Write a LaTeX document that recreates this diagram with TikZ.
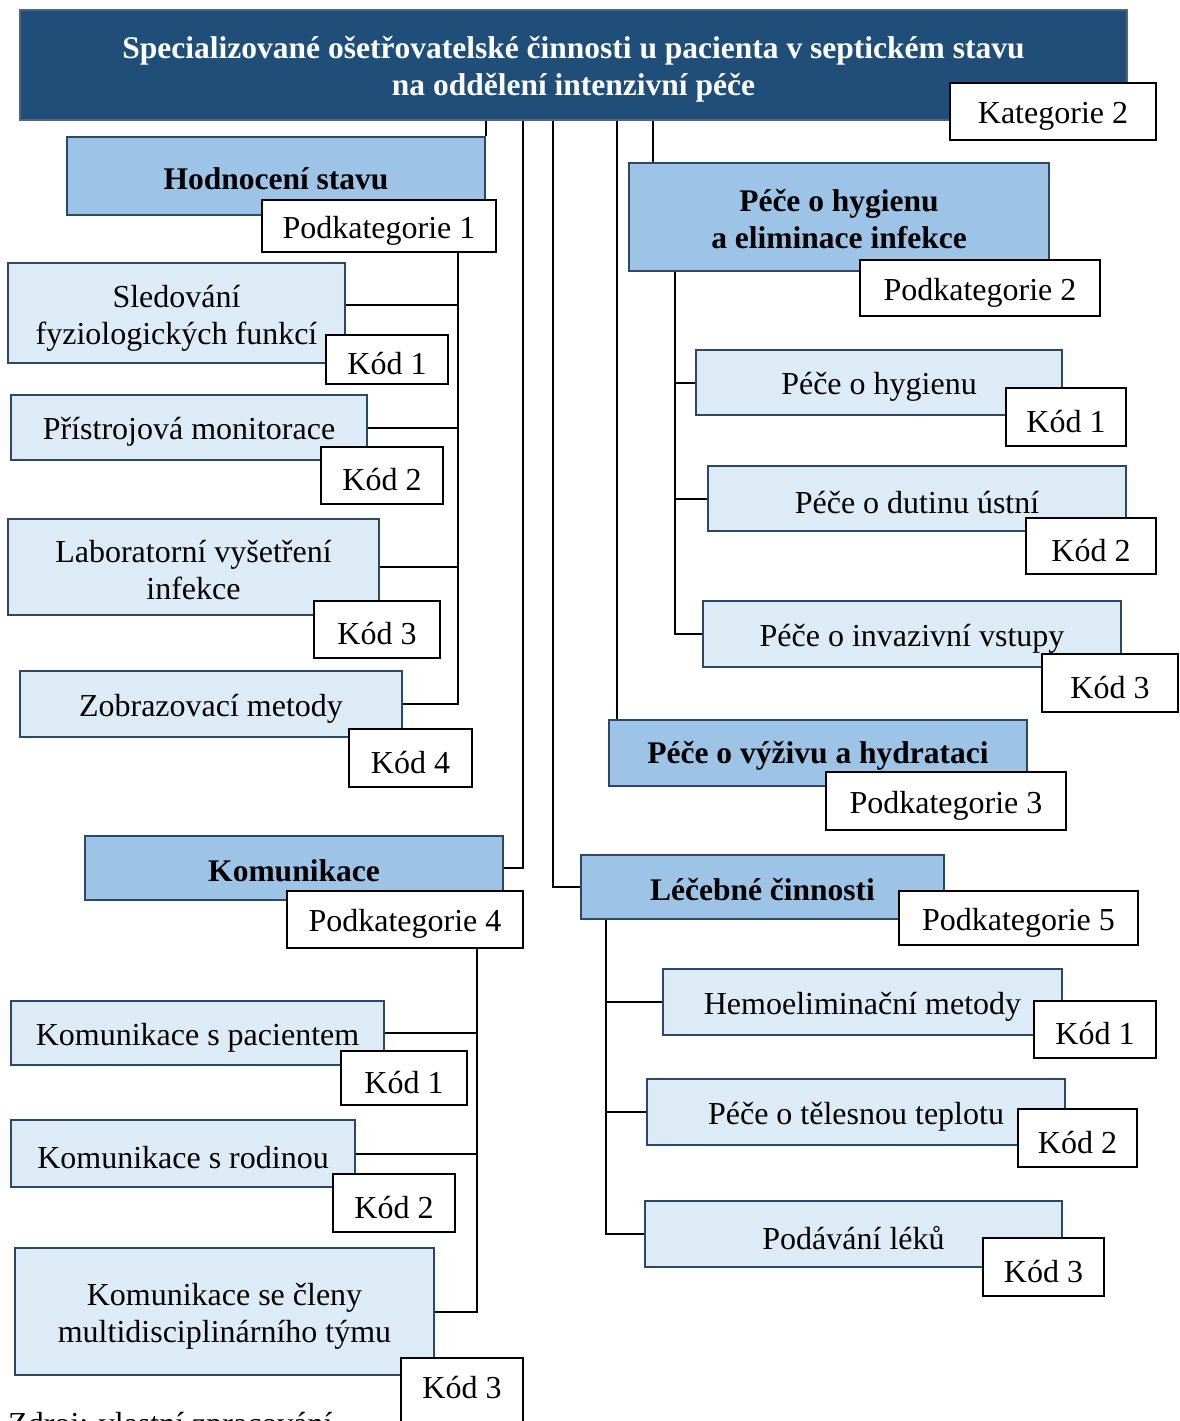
\documentclass[tikz,border=0pt]{standalone}
\usepackage{fontspec}
\setmainfont{Liberation Serif}
\usetikzlibrary{backgrounds}
\definecolor{headfill}{HTML}{1F4E79}
\definecolor{headline}{HTML}{4A6885}
\definecolor{subfill}{HTML}{9DC3E6}
\definecolor{codefill}{HTML}{DDEBF7}
\definecolor{boxline}{HTML}{2B4866}
\newcommand{\topstrut}{\rule{0pt}{31pt}}
\newcommand{\boldstrut}{\rule{0pt}{28pt}}
\begin{document}
\begin{tikzpicture}[x=1pt,y=-1pt,
  txt/.style={font=\fontsize{32}{37}\selectfont},
  headbox/.style={draw=headline,line width=2pt,fill=headfill,text=white,align=center,inner sep=0pt,
    font=\fontsize{31.5}{37}\selectfont\bfseries},
  subbox/.style={draw=boxline,line width=2pt,fill=subfill,align=center,inner sep=0pt,
    font=\fontsize{31.5}{37}\selectfont\bfseries,execute at begin node=\boldstrut},
  codebox/.style={draw=boxline,line width=2pt,fill=codefill,align=center,inner sep=0pt,
    font=\fontsize{32}{37}\selectfont,execute at begin node=\topstrut},
  tagbox/.style={draw=black,line width=1.5pt,fill=white,align=center,inner sep=0pt,
    font=\fontsize{32}{37}\selectfont,execute at begin node=\topstrut},
  link/.style={draw=black,line width=2pt},
  sz/.style 2 args={minimum width=#1pt,minimum height=#2pt}]
\useasboundingbox (0,0) rectangle (1179,1421);

% root
\node[headbox,sz={1107}{110}] (head) at (573.5,65) {\rule{0pt}{30pt}Specializované ošetřovatelské činnosti u pacienta v septickém stavu\\na oddělení intenzivní péče};
\node[tagbox,sz={206}{57}] (kat) at (1053,111.5) {Kategorie 2};

% subcategory 1
\node[subbox,sz={418}{78}] (hod) at (276,176) {Hodnocení stavu};
\node[tagbox,sz={234}{52}] (pk1) at (379,226) {Podkategorie 1};
\node[codebox,sz={337}{100}] (s1) at (176.5,313) {\rule{0pt}{32pt}Sledování\\fyziologických funkcí};
\node[tagbox,sz={122}{49}] (k11) at (387,359.5) {Kód 1};
\node[codebox,sz={356}{65}] (s2) at (189,427.5) {Přístrojová monitorace};
\node[tagbox,sz={122}{57}] (k12) at (382,475.5) {Kód 2};
\node[codebox,sz={371}{96}] (s3) at (193.5,567) {\rule{0pt}{28pt}Laboratorní vyšetření\\infekce};
\node[tagbox,sz={126}{57}] (k13) at (377,629.5) {Kód 3};
\node[codebox,sz={382}{66}] (s4) at (211,704) {Zobrazovací metody};
\node[tagbox,sz={123}{58}] (k14) at (410.5,758) {Kód 4};

% subcategory 2
\node[subbox,sz={420}{108}] (hyg) at (839,217) {\rule{0pt}{26pt}Péče o hygienu\\a eliminace infekce};
\node[tagbox,sz={240}{56}] (pk2) at (980,288) {Podkategorie 2};
\node[codebox,sz={366}{65}] (h1) at (879,382.5) {Péče o hygienu};
\node[tagbox,sz={120}{58}] (k21) at (1066,417) {Kód 1};
\node[codebox,sz={418}{65}] (h2) at (917,498.5) {Péče o dutinu ústní};
\node[tagbox,sz={130}{56}] (k22) at (1091,546) {Kód 2};
\node[codebox,sz={418}{66}] (h3) at (912,634) {Péče o invazivní vstupy};
\node[tagbox,sz={136}{58}] (k23) at (1110,683) {Kód 3};

% subcategory 3
\node[subbox,sz={418}{66}] (vyz) at (818,753) {Péče o výživu a hydrataci};
\node[tagbox,sz={240}{58}] (pk3) at (946,801) {Podkategorie 3};

% subcategory 4
\node[subbox,sz={418}{64}] (kom) at (294,868) {Komunikace};
\node[tagbox,sz={236}{57}] (pk4) at (405,919.5) {Podkategorie 4};
\node[codebox,sz={373}{64}] (c1) at (197.5,1033) {Komunikace s pacientem};
\node[tagbox,sz={126}{54}] (k41) at (404,1078) {Kód 1};
\node[codebox,sz={344}{67}] (c2) at (183,1153.5) {Komunikace s rodinou};
\node[tagbox,sz={122}{58}] (k42) at (394,1203) {Kód 2};
\node[codebox,sz={419}{127}] (c3) at (224.5,1311.5) {\rule{0pt}{32pt}Komunikace se členy\\multidisciplinárního týmu};
\node[draw=black,line width=1.5pt,fill=white,inner sep=0pt,sz={122}{120},anchor=north] (k43) at (462,1357) {};
\node[txt] (k43t) at (462,1388) {Kód 3};

% subcategory 5
\node[subbox,sz={363}{64}] (lec) at (762.5,887) {Léčebné činnosti};
\node[tagbox,sz={239}{54}] (pk5) at (1018.5,918) {Podkategorie 5};
\node[codebox,sz={399}{66}] (l1) at (862.5,1002) {Hemoeliminační metody};
\node[tagbox,sz={122}{57}] (k51) at (1095,1029.5) {Kód 1};
\node[codebox,sz={418}{66}] (l2) at (856,1112) {Péče o tělesnou teplotu};
\node[tagbox,sz={119}{58}] (k52) at (1077.5,1138) {Kód 2};
\node[codebox,sz={417}{66}] (l3) at (853.5,1234) {Podávání léků};
\node[tagbox,sz={121}{58}] (k53) at (1043.5,1267) {Kód 3};

% source line, running off the lower edge
\node[txt,anchor=base west,inner sep=0pt] (src) at (8,1434) {Zdroj: vlastní zpracování};

% connectors, behind the boxes
\begin{pgfonlayer}{background}
  \coordinate (xa) at (458,0);
  \coordinate (xb) at (675,0);
  \coordinate (xc) at (477,0);
  \coordinate (xd) at (606,0);
  \coordinate (xk) at (523,0);
  \coordinate (xl) at (553,0);
  \coordinate (xv) at (617,0);
  \coordinate (xh) at (653,0);

  \draw[link] (hod.north east) -- (hod.north east |- head.south);
  \draw[link] (head.south -| xk) |- (kom.east);
  \draw[link] (head.south -| xl) |- (lec.west);
  \draw[link] (head.south -| xv) -- (vyz.north -| xv);
  \draw[link] (head.south -| xh) -- (hyg.north -| xh);

  \draw[link] (pk1.south -| xa) |- (s4.east);
  \draw[link] ([yshift=8pt]s1.east) -- ([yshift=8pt]s1.east -| xa);
  \draw[link] (s2.east) -- (s2.east -| xa);
  \draw[link] (s3.east) -- (s3.east -| xa);

  \draw[link] (hyg.south -| xb) |- (h3.west);
  \draw[link] (h1.west) -- (h1.west -| xb);
  \draw[link] (h2.west) -- (h2.west -| xb);

  \draw[link] (pk4.south -| xc) |- (c3.east);
  \draw[link] (c1.east) -- (c1.east -| xc);
  \draw[link] (c2.east) -- (c2.east -| xc);

  \draw[link] (lec.south -| xd) |- (l3.west);
  \draw[link] (l1.west) -- (l1.west -| xd);
  \draw[link] (l2.west) -- (l2.west -| xd);
\end{pgfonlayer}
\end{tikzpicture}
\end{document}
